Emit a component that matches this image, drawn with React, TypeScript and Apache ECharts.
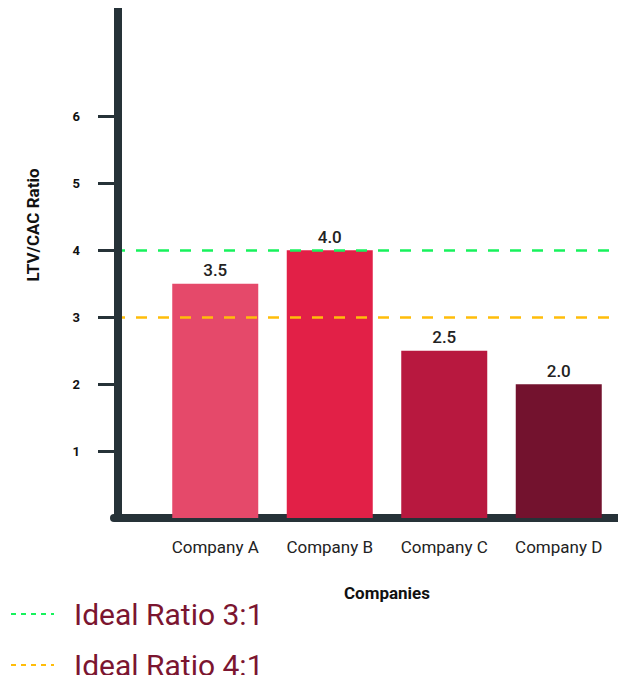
import React, { useEffect, useRef } from "react";
import * as echarts from "echarts";

const categories = ["Company A", "Company B", "Company C", "Company D"];
const ratios = [3.5, 4.0, 2.5, 2.0];
const barColors = ["#e5496a", "#e22047", "#b8183f", "#73122e"];
const yTicks = [1, 2, 3, 4, 5, 6];
const idealLines = [
  { name: "Ideal Ratio 3:1", value: 4, color: "#17f25c" },
  { name: "Ideal Ratio 4:1", value: 3, color: "#ffbd0a" },
];

const AXIS = "#263238";
const FONT = "Roboto";
const Y_MAX = 7.56;

export default function App() {
  const ref = useRef<HTMLDivElement>(null);
  useEffect(() => {
    if (!ref.current) return;
    const chart = echarts.init(ref.current, null, { renderer: "svg" });
    chart.setOption({
      animation: false,
      textStyle: { fontFamily: FONT },
      grid: [
        { left: 114, right: 0, top: 12, bottom: 165 },
        { left: 158, right: 10, top: 12, bottom: 165 },
      ],
      xAxis: [
        {
          gridIndex: 0,
          type: "value",
          min: 0,
          max: 1,
          offset: 5,
          axisLine: { show: true, lineStyle: { color: AXIS, width: 8 } },
          axisTick: { show: false },
          axisLabel: { show: false },
          splitLine: { show: false },
        },
        {
          gridIndex: 1,
          type: "category",
          data: categories,
          axisLine: { show: false },
          axisTick: { show: false },
          axisLabel: { color: "#222", fontSize: 17, margin: 20, interval: 0, fontFamily: FONT },
          name: "Companies",
          nameLocation: "middle",
          nameGap: 66,
          nameTextStyle: { color: "#111", fontSize: 17, fontWeight: "bold", fontFamily: FONT },
        },
      ],
      yAxis: [
        {
          gridIndex: 0,
          type: "value",
          min: 0,
          max: Y_MAX,
          offset: -4,
          z: 10,
          axisLine: { show: true, lineStyle: { color: AXIS, width: 8, cap: "square" } },
          axisTick: { show: true, length: 20, lineStyle: { color: AXIS, width: 3 }, customValues: yTicks },
          axisLabel: {
            color: "#111",
            fontSize: 13,
            fontWeight: "bold",
            margin: 38,
            customValues: yTicks,
            fontFamily: FONT,
          },
          splitLine: { show: false },
        },
        {
          gridIndex: 1,
          type: "value",
          min: 0,
          max: Y_MAX,
          show: false,
          splitLine: { show: false },
        },
      ],
      legend: {
        orient: "vertical",
        left: 10,
        top: 598,
        height: 100,
        padding: 0,
        itemWidth: 43,
        itemHeight: 14,
        itemGap: 19,
        textStyle: { color: "#7b1530", fontSize: 30, lineHeight: 32, padding: [0, 0, 0, 15], fontFamily: FONT },
        data: idealLines.map((l) => ({
          name: l.name,
          itemStyle: { opacity: 0 },
          lineStyle: { color: l.color, width: 2, type: [5, 5] },
        })),
      },
      graphic: [
        {
          type: "text",
          x: 33,
          y: 225,
          rotation: Math.PI / 2,
          style: {
            text: "LTV/CAC Ratio",
            fontSize: 17,
            fontWeight: "bold",
            fontFamily: FONT,
            fill: "#111",
            align: "center",
            verticalAlign: "middle",
          },
        },
      ],
      series: [
        {
          type: "bar",
          xAxisIndex: 1,
          yAxisIndex: 1,
          barWidth: 86,
          data: ratios.map((v, i) => ({ value: v, itemStyle: { color: barColors[i] } })),
          label: {
            show: true,
            position: "top",
            distance: 5,
            formatter: (p: any) => Number(p.value).toFixed(1),
            color: "#222",
            fontSize: 17,
            fontWeight: 500,
            fontFamily: FONT,
          },
        },
        ...idealLines.map((l) => ({
          type: "line",
          name: l.name,
          xAxisIndex: 0,
          yAxisIndex: 0,
          data: [],
          z: 3,
          symbol: "none",
          itemStyle: { color: l.color },
          lineStyle: { color: l.color, width: 2, type: [5, 5] },
          markLine: {
            silent: true,
            symbol: "none",
            label: { show: false },
            lineStyle: { color: l.color, width: 2.5, type: [11, 11] },
            data: [{ yAxis: l.value }],
          },
        })),
      ],
    });
    return () => chart.dispose();
  }, []);
  return <div ref={ref} style={{ width: 626, height: 683, margin: -8 }} />;
}
